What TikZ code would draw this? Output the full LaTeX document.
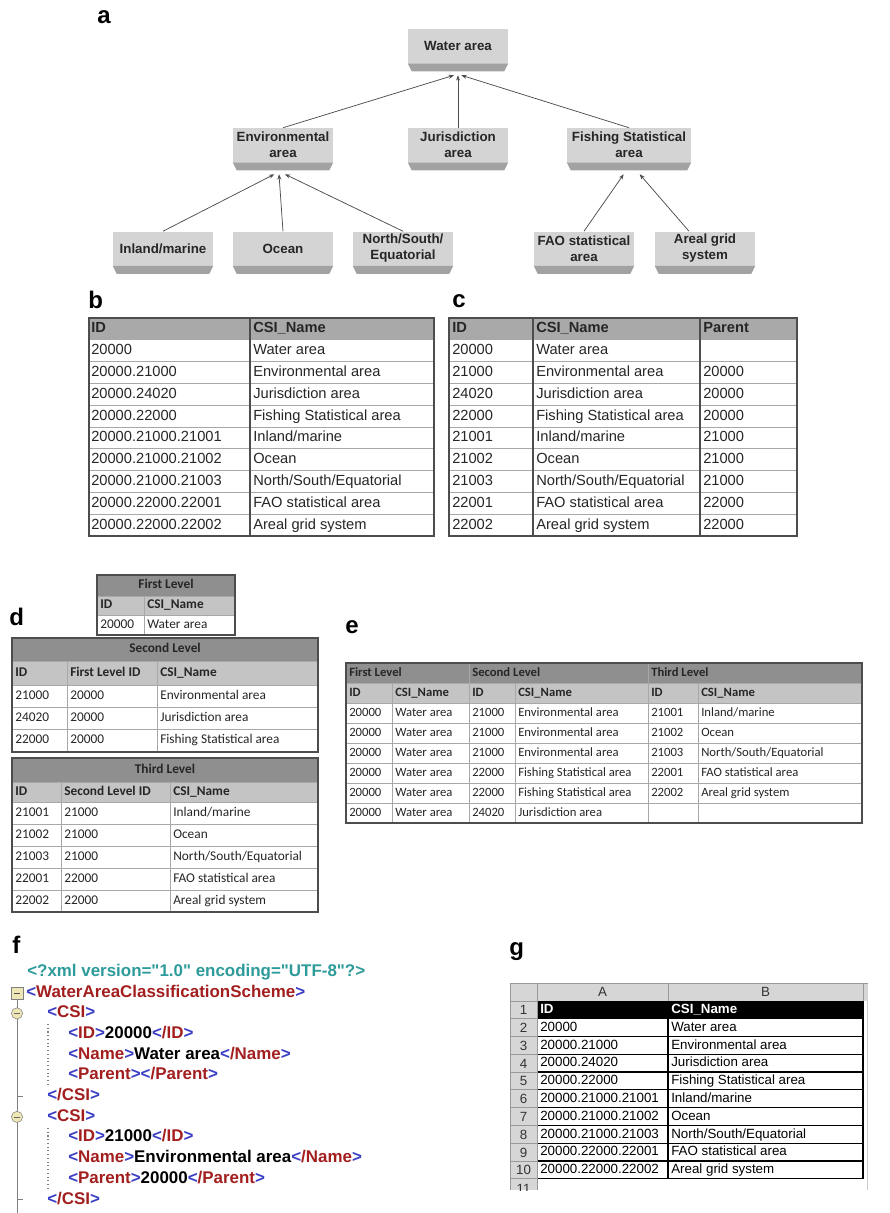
\documentclass[tikz,border=0pt]{standalone}
\usepackage{fontspec}
\setmainfont{Liberation Sans}[Ligatures=TeXOff]
\newfontfamily\calibrifont{Carlito}
\usetikzlibrary{arrows.meta,calc,positioning}

\definecolor{boxface}{HTML}{D4D4D4}
\definecolor{boxband}{HTML}{A2A2A2}
\definecolor{hdrgray}{HTML}{A9A9A9}
\definecolor{titlegray}{HTML}{8F8F8F}
\definecolor{subgray}{HTML}{C4C4C4}
\definecolor{rulegray}{HTML}{A8A8A8}
\definecolor{framegray}{HTML}{4D4D4D}
\definecolor{xmlteal}{HTML}{2E9B9B}
\definecolor{xmlblue}{HTML}{3B3FC4}
\definecolor{xmlred}{HTML}{A31F1F}
\definecolor{sheetgray}{HTML}{D6D6D6}
\definecolor{treeyellow}{HTML}{EEE6B4}

\newcommand{\xmlopen}[1]{\textcolor{xmlblue}{<}\textcolor{xmlred}{#1}\textcolor{xmlblue}{>}}
\newcommand{\xmlclose}[1]{\textcolor{xmlblue}{<}\textcolor{xmlred}{/#1}\textcolor{xmlblue}{>}}

\tikzset{
  panel/.style={anchor=base west,inner sep=0pt,font=\fontsize{18}{18}\selectfont\bfseries},
  classbox/.style={fill=boxface,minimum width=75pt,minimum height=25.5pt,inner sep=1pt,align=center,
    font=\fontsize{10}{12}\selectfont\bfseries,text=black!85},
  isa/.style={-{Stealth[length=4pt,width=3pt]},draw=black!70,line width=0.55pt},
  arialcell/.style={anchor=west,inner sep=0pt,text height=8pt,text depth=2.3pt,
    font=\fontsize{11}{11}\selectfont,text=black!85},
  arialhead/.style={arialcell,font=\fontsize{11}{11}\selectfont\bfseries},
  calcell/.style={anchor=west,inner sep=0pt,text height=7pt,text depth=2pt,
    font=\calibrifont\fontsize{10}{10}\selectfont,text=black!85},
  calhead/.style={calcell,font=\calibrifont\fontsize{10}{10}\selectfont\bfseries},
  ecell/.style={calcell,font=\calibrifont\fontsize{9.5}{9.5}\selectfont},
  ehead/.style={calcell,font=\calibrifont\fontsize{9.5}{9.5}\selectfont\bfseries},
  xmlline/.style={anchor=west,inner sep=0pt,text height=9.2pt,text depth=2.7pt,
    font=\fontsize{12.7}{12.7}\selectfont\bfseries},
  sheetcell/.style={anchor=west,inner sep=0pt,text height=7.2pt,text depth=2pt,
    font=\fontsize{10}{10}\selectfont},
  sheetnum/.style={inner sep=0pt,font=\fontsize{10}{10}\selectfont,text=black!80},
  grid line/.style={rulegray,line width=0.5pt},
  frame line/.style={framegray,line width=1.2pt},
}

\begin{document}
\begin{tikzpicture}[x=0.75pt,y=-0.75pt]
\path[use as bounding box,fill=white] (0,0) rectangle (889,1213);

% a: class hierarchy
\node[panel] (la) at (97,24) {a};
\node[classbox] (water) at (458,46) {Water area};
\node[classbox] (env) at (283,145) {Environmental\\area};
\node[classbox] (juris) at (458,145) {Jurisdiction\\area};
\node[classbox,minimum width=93pt] (fish) at (629,145) {Fishing Statistical\\area};
\node[classbox] (inland) at (163,248.5) {Inland/marine};
\node[classbox] (ocean) at (283,248.5) {Ocean};
\node[classbox] (nse) at (403,248.5) {North/South/\\Equatorial};
\node[classbox] (fao) at (584,248.5) {FAO statistical\\area};
\node[classbox] (areal) at (705,248.5) {Areal grid\\system};
\foreach \n in {water,env,juris,fish,inland,ocean,nse,fao,areal}
  \fill[boxband] (\n.south west) -- (\n.south east) -- ([xshift=-3pt,yshift=-6pt]\n.south east)
    -- ([xshift=3pt,yshift=-6pt]\n.south west) -- cycle;
\foreach \n in {water,env,fish} \coordinate (\n-in) at ($(\n.south)+(0,12)$);
\draw[isa] (env.north) -- ([xshift=-3pt]water-in);
\draw[isa] (juris.north) -- (water-in);
\draw[isa] (fish.north) -- ([xshift=2.5pt]water-in);
\draw[isa] (inland.north) -- ([xshift=-6.5pt]env-in);
\draw[isa] (ocean.north) -- ([xshift=-3pt]env-in);
\draw[isa] (nse.north) -- ([xshift=1.5pt]env-in);
\draw[isa] (fao.north) -- ([xshift=-4pt]fish-in);
\draw[isa] ([xshift=-12pt]areal.north) -- ([xshift=8pt]fish-in);

% b: path-encoded IDs
\node[panel] (lb) at (88,308) {b};
\fill[hdrgray] (89,318) rectangle (434,339.8);
\foreach \i in {1,...,9} \draw[grid line] (89,{318+21.8*\i}) -- (434,{318+21.8*\i});
\draw[framegray,line width=0.8pt] (250,318) -- (250,536);
\draw[frame line] (89,318) rectangle (434,536);
\node[arialhead] (b-id) at (91,329) {ID};
\node[arialhead] (b-nm) at (253,329) {CSI\_Name};
\foreach \i/\id/\nm in {1/20000/Water area,2/20000.21000/Environmental area,%
3/20000.24020/Jurisdiction area,4/20000.22000/Fishing Statistical area,%
5/20000.21000.21001/{Inland/marine},6/20000.21000.21002/Ocean,%
7/20000.21000.21003/{North/South/Equatorial},8/20000.22000.22001/FAO statistical area,%
9/20000.22000.22002/Areal grid system}
{
  \node[arialcell] (b-\i-id) at (91,{329+21.8*\i}) {\id};
  \node[arialcell] (b-\i-nm) at (253,{329+21.8*\i}) {\nm};
}

% c: parent column
\node[panel] (lc) at (452,307) {c};
\fill[hdrgray] (449,318) rectangle (797,339.8);
\foreach \i in {1,...,9} \draw[grid line] (449,{318+21.8*\i}) -- (797,{318+21.8*\i});
\foreach \x in {533,700} \draw[framegray,line width=0.8pt] (\x,318) -- (\x,536);
\draw[frame line] (449,318) rectangle (797,536);
\node[arialhead] (c-id) at (452,329) {ID};
\node[arialhead] (c-nm) at (536,329) {CSI\_Name};
\node[arialhead] (c-pid) at (703,329) {Parent};
\foreach \i/\id/\nm/\pid in {1/20000/Water area/{},2/21000/Environmental area/20000,%
3/24020/Jurisdiction area/20000,4/22000/Fishing Statistical area/20000,%
5/21001/{Inland/marine}/21000,6/21002/Ocean/21000,%
7/21003/{North/South/Equatorial}/21000,8/22001/FAO statistical area/22000,%
9/22002/Areal grid system/22000}
{
  \node[arialcell] (c-\i-id) at (452,{329+21.8*\i}) {\id};
  \node[arialcell] (c-\i-nm) at (536,{329+21.8*\i}) {\nm};
  \node[arialcell] (c-\i-pid) at (703,{329+21.8*\i}) {\pid};
}

% d: one table per level
\node[panel] (ld) at (9,625) {d};
\fill[titlegray] (97,575) rectangle (235,596);
\fill[subgray] (97,596) rectangle (235,615);
\draw[grid line] (97,596) -- (235,596) (97,615) -- (235,615) (144,596) -- (144,635);
\draw[frame line] (97,575) rectangle (235,635);
\node[calhead,anchor=center] (d1-title) at (166,585.5) {First Level};
\node[calhead] (d1-id) at (100,605.5) {ID};
\node[calhead] (d1-nm) at (147,605.5) {CSI\_Name};
\node[calcell] (d1-1-id) at (100,625) {20000};
\node[calcell] (d1-1-nm) at (147,625) {Water area};
% second level
\fill[titlegray] (12,638) rectangle (318,661);
\fill[subgray] (12,661) rectangle (318,685);
\foreach \y in {661,685,707,729} \draw[grid line] (12,\y) -- (318,\y);
\foreach \x in {67,157} \draw[grid line] (\x,661) -- (\x,752);
\draw[frame line] (12,638) rectangle (318,752);
\node[calhead,anchor=center] (d2-title) at (165,649.5) {Second Level};
\node[calhead] (d2-id) at (15,673) {ID};
\node[calhead] (d2-pid) at (70,673) {First Level ID};
\node[calhead] (d2-nm) at (160,673) {CSI\_Name};
\foreach \i/\id/\pid/\nm in {1/21000/20000/Environmental area,2/24020/20000/Jurisdiction area,%
3/22000/20000/Fishing Statistical area}
{
  \node[calcell] (d2-\i-id) at (15,{674+22*\i}) {\id};
  \node[calcell] (d2-\i-pid) at (70,{674+22*\i}) {\pid};
  \node[calcell] (d2-\i-nm) at (160,{674+22*\i}) {\nm};
}
% third level
\fill[titlegray] (12,758) rectangle (318,782);
\fill[subgray] (12,782) rectangle (318,802);
\foreach \y in {782,802,824,846,868,890} \draw[grid line] (12,\y) -- (318,\y);
\foreach \x in {61,170} \draw[grid line] (\x,782) -- (\x,912);
\draw[frame line] (12,758) rectangle (318,912);
\node[calhead,anchor=center] (d3-title) at (165,770) {Third Level};
\node[calhead] (d3-id) at (15,792) {ID};
\node[calhead] (d3-pid) at (64,792) {Second Level ID};
\node[calhead] (d3-nm) at (173,792) {CSI\_Name};
\foreach \i/\id/\pid/\nm in {1/21001/21000/{Inland/marine},2/21002/21000/Ocean,%
3/21003/21000/{North/South/Equatorial},4/22001/22000/FAO statistical area,%
5/22002/22000/Areal grid system}
{
  \node[calcell] (d3-\i-id) at (15,{791+22*\i}) {\id};
  \node[calcell] (d3-\i-pid) at (64,{791+22*\i}) {\pid};
  \node[calcell] (d3-\i-nm) at (173,{791+22*\i}) {\nm};
}

% e: flattened levels
\node[panel] (le) at (345,633) {e};
\fill[titlegray] (346,663) rectangle (862,683);
\fill[subgray] (346,683) rectangle (862,703);
\foreach \i in {0,...,6} \draw[grid line] (346,{683+20*\i}) -- (862,{683+20*\i});
\foreach \x in {392,515,698} \draw[grid line] (\x,683) -- (\x,823);
\foreach \x in {469,648} \draw[grid line] (\x,663) -- (\x,823);
\draw[frame line] (346,663) rectangle (862,823);
\node[ehead] (e-t1) at (349,673) {First Level};
\node[ehead] (e-t2) at (472,673) {Second Level};
\node[ehead] (e-t3) at (651,673) {Third Level};
\node[ehead] (e-h1) at (349,693) {ID};
\node[ehead] (e-h2) at (395,693) {CSI\_Name};
\node[ehead] (e-h3) at (472,693) {ID};
\node[ehead] (e-h4) at (518,693) {CSI\_Name};
\node[ehead] (e-h5) at (651,693) {ID};
\node[ehead] (e-h6) at (701,693) {CSI\_Name};
\foreach \i/\sid/\snm/\tid/\tnm in {1/21000/Environmental area/21001/{Inland/marine},%
2/21000/Environmental area/21002/Ocean,3/21000/Environmental area/21003/{North/South/Equatorial},%
4/22000/Fishing Statistical area/22001/FAO statistical area,%
5/22000/Fishing Statistical area/22002/Areal grid system,6/24020/Jurisdiction area/{}/{}}
{
  \node[ecell] (e-\i-fid) at (349,{693+20*\i}) {20000};
  \node[ecell] (e-\i-fnm) at (395,{693+20*\i}) {Water area};
  \node[ecell] (e-\i-sid) at (472,{693+20*\i}) {\sid};
  \node[ecell] (e-\i-snm) at (518,{693+20*\i}) {\snm};
  \node[ecell] (e-\i-tid) at (651,{693+20*\i}) {\tid};
  \node[ecell] (e-\i-tnm) at (701,{693+20*\i}) {\tnm};
}

% f: XML encoding
\node[panel] (lf) at (12,953) {f};
\draw[gray,line width=0.6pt] (17,999) -- (17,1213);
\draw[fill=treeyellow,draw=gray] (11,987) rectangle (23,999);
\draw[black!70] (14,993) -- (20,993);
\foreach \y in {1013.4,1116.9} {
  \draw[fill=treeyellow,draw=gray] (17,\y) circle (4.2pt);
  \draw[black!60] (14,\y) -- (20,\y);
}
\foreach \y in {1096.2,1199.7} \draw[gray,line width=0.6pt] (17,\y) -- (23,\y);
\draw[gray,dotted,line width=0.8pt] (48,1024) -- (48,1087) (48,1128) -- (48,1190);
\node[xmlline,text=xmlteal] (x1) at (27,972) {<?xml version="1.0" encoding="UTF-8"?>};
\node[xmlline] (x2) at (26,992.7) {\xmlopen{WaterAreaClassificationScheme}};
\node[xmlline] (x3) at (47,1013.4) {\xmlopen{CSI}};
\node[xmlline] (x4) at (68,1034.1) {\xmlopen{ID}20000\xmlclose{ID}};
\node[xmlline] (x5) at (68,1054.8) {\xmlopen{Name}Water area\xmlclose{Name}};
\node[xmlline] (x6) at (68,1075.5) {\xmlopen{Parent}\xmlclose{Parent}};
\node[xmlline] (x7) at (47,1096.2) {\xmlclose{CSI}};
\node[xmlline] (x8) at (47,1116.9) {\xmlopen{CSI}};
\node[xmlline] (x9) at (68,1137.6) {\xmlopen{ID}21000\xmlclose{ID}};
\node[xmlline] (x10) at (68,1158.3) {\xmlopen{Name}Environmental area\xmlclose{Name}};
\node[xmlline] (x11) at (68,1179) {\xmlopen{Parent}20000\xmlclose{Parent}};
\node[xmlline] (x12) at (47,1199.7) {\xmlclose{CSI}};

% g: spreadsheet export
\node[panel] (lg) at (509,955) {g};
\fill[sheetgray] (510,983) rectangle (868,1001);
\fill[sheetgray] (510,1001) rectangle (537,1190);
\fill[black] (537,1001) rectangle (863,1019);
\foreach \i in {2,...,11} {
  \draw[black,line width=1pt] (537,{983+17.8*\i}) -- (863,{983+17.8*\i});
  \draw[gray!80,line width=0.5pt] (510,{983+17.8*\i}) -- (537,{983+17.8*\i});
}
\draw[gray!80,line width=0.5pt] (510,983) -- (868,983) (510,1001) -- (537,1001)
  (510,983) -- (510,1190) (537,983) -- (537,1190) (668,983) -- (668,1001) (863,983) -- (863,1001);
\draw[gray!40,line width=0.5pt] (867,1001) -- (867,1190);
\draw[black,line width=1pt] (668,1001) -- (668,1179) (863,1001) -- (863,1179);
\node[sheetnum] (g-ca) at (602.5,992) {A};
\node[sheetnum] (g-cb) at (765.5,992) {B};
\foreach \i in {1,...,10} \node[sheetnum] (g-r\i) at (523.5,{1010+17.8*(\i-1)}) {\i};
\begin{scope}
  \clip (510,1179) rectangle (537,1190);
  \node[sheetnum] (g-r11) at (523.5,1189) {11};
\end{scope}
\node[sheetcell,text=white,font=\fontsize{10}{10}\selectfont\bfseries] (g-1-id) at (540,1010) {ID};
\node[sheetcell,text=white,font=\fontsize{10}{10}\selectfont\bfseries] (g-1-nm) at (671,1010) {CSI\_Name};
\foreach \i/\id/\nm in {2/20000/Water area,3/20000.21000/Environmental area,%
4/20000.24020/Jurisdiction area,5/20000.22000/Fishing Statistical area,%
6/20000.21000.21001/{Inland/marine},7/20000.21000.21002/Ocean,%
8/20000.21000.21003/{North/South/Equatorial},9/20000.22000.22001/FAO statistical area,%
10/20000.22000.22002/Areal grid system}
{
  \node[sheetcell] (g-\i-id) at (540,{1010+17.8*(\i-1)}) {\id};
  \node[sheetcell] (g-\i-nm) at (671,{1010+17.8*(\i-1)}) {\nm};
}
\end{tikzpicture}
\end{document}
